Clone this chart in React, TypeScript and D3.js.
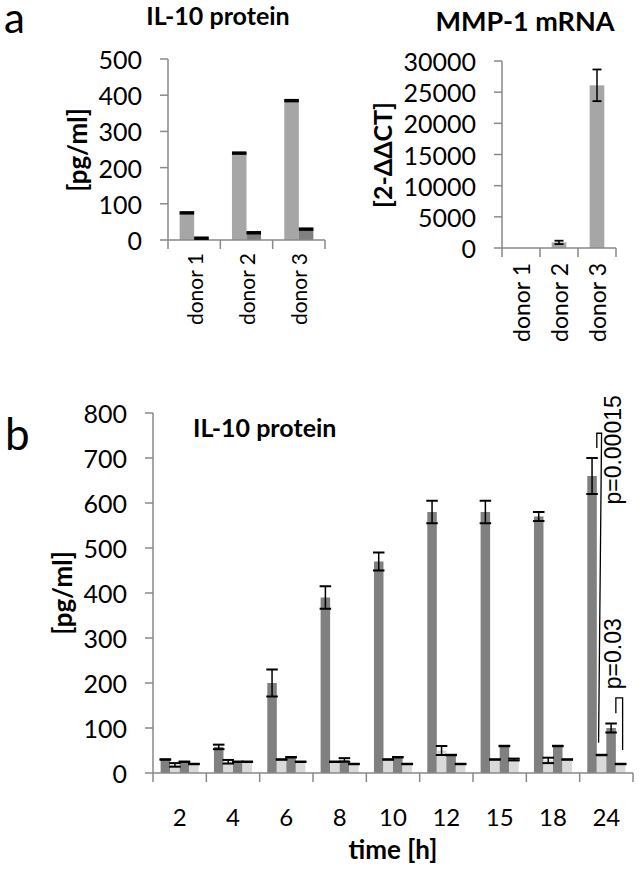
import React from 'react';
import * as d3 from 'd3';

// ---------- Panel a data ----------
const donors = ['donor 1', 'donor 2', 'donor 3'];
const il10Stim = [75, 240, 385];
const il10StimErr = [2, 2, 2];
const il10Ctrl = [5, 20, 30];
const il10CtrlErr = [2, 2, 2];
const il10Ticks = [0, 100, 200, 300, 400, 500];

const mmp1 = [0, 900, 26100];
const mmp1Err = [0, 270, 2540];
const mmp1Ticks = [0, 5000, 10000, 15000, 20000, 25000, 30000];

// ---------- Panel b data ----------
const times = ['2', '4', '6', '8', '10', '12', '15', '18', '24'];
const s1 = [30, 58, 200, 390, 470, 580, 580, 570, 660];
const s1Err = [0.5, 5, 30, 25, 20, 25, 25, 10, 40];
const s2 = [18, 25, 30, 25, 30, 50, 30, 28, 40];
const s2Err = [4, 4, 0.5, 0.5, 0.5, 10, 0.5, 6, 0.5];
const s3 = [25, 25, 35, 29, 35, 40, 60, 60, 100];
const s3Err = [0.5, 0.5, 0.5, 4, 0.5, 0.5, 0.5, 0.5, 10];
const s4 = [20, 25, 25, 20, 20, 20, 30, 30, 20];
const s4Err = [0.5, 0.5, 0.5, 0.5, 0.5, 0.5, 2, 0.5, 0.5];
const bTicks = [0, 100, 200, 300, 400, 500, 600, 700, 800];

// significance annotations at 24 h
const pLabels = ['p=0.00015', 'p=0.03'];
const pTopValues = [755, 167];
const pShortBottom = [722, 133];
const pLongBottom = [67, 51];
const pTextCenter = [718, 265];

const FONT = 'Lato, "Open Sans", sans-serif';
const PFONT = '"Liberation Sans", Arial, sans-serif';
const AXIS = '#898989';
const DARK = '#808080';
const MID = '#a6a6a6';
const LIGHT = '#d9d9d9';

type EBProps = { x: number; yTop: number; yBot: number; cap: number; sw?: number; csw?: number };
function ErrBar({ x, yTop, yBot, cap, sw = 1.5, csw = 2 }: EBProps) {
  return (
    <g stroke="#000">
      <line x1={x} x2={x} y1={yTop} y2={yBot} strokeWidth={sw} />
      <line x1={x - cap / 2} x2={x + cap / 2} y1={yTop} y2={yTop} strokeWidth={csw} />
      <line x1={x - cap / 2} x2={x + cap / 2} y1={yBot} y2={yBot} strokeWidth={csw} />
    </g>
  );
}

function YAxis({ x, y, ticks, fs }: { x: number; y: d3.ScaleLinear<number, number>; ticks: number[]; fs: number }) {
  const [r0, r1] = y.range();
  return (
    <g>
      <line x1={x} x2={x} y1={r0} y2={r1} stroke={AXIS} strokeWidth={1.5} />
      {ticks.map((t) => (
        <g key={t}>
          <line x1={x - 8} x2={x} y1={y(t)} y2={y(t)} stroke={AXIS} strokeWidth={1.5} />
          <text x={x - 26} y={y(t)} textAnchor="end" dominantBaseline="central" fontFamily={FONT} fontSize={fs} fill="#000">
            {String(t)}
          </text>
        </g>
      ))}
    </g>
  );
}

function XAxisBand({ x, y0, domain }: { x: d3.ScaleBand<string>; y0: number; domain: string[] }) {
  const [a, b] = x.range();
  const edges = domain.map((d) => x(d) as number).concat([b]);
  return (
    <g>
      <line x1={a} x2={b} y1={y0} y2={y0} stroke={AXIS} strokeWidth={1.5} />
      {edges.map((e, i) => (
        <line key={i} x1={e} x2={e} y1={y0} y2={y0 + 9} stroke={AXIS} strokeWidth={1.5} />
      ))}
    </g>
  );
}

export default function App() {
  // Panel a, left
  const yA1 = d3.scaleLinear().domain([0, 500]).range([240, 59]);
  const xA1 = d3.scaleBand().domain(donors).range([168, 325]);
  const wA1 = xA1.bandwidth() / 3.6;
  const offA1 = (xA1.bandwidth() - 2 * wA1) / 2;

  // Panel a, right
  const yA2 = d3.scaleLinear().domain([0, 30000]).range([248, 61]);
  const xA2 = d3.scaleBand().domain(donors).range([502, 616]);
  const wA2 = xA2.bandwidth() / 2.6;
  const offA2 = (xA2.bandwidth() - wA2) / 2;

  // Panel b
  const yB = d3.scaleLinear().domain([0, 800]).range([773, 413]);
  const xB = d3.scaleBand().domain(times).range([153, 633]);
  const wB = xB.bandwidth() / 5.6;
  const offB = (xB.bandwidth() - 4 * wB) / 2;
  const series = [
    { vals: s1, errs: s1Err, color: DARK },
    { vals: s2, errs: s2Err, color: LIGHT },
    { vals: s3, errs: s3Err, color: DARK },
    { vals: s4, errs: s4Err, color: LIGHT },
  ];
  const barX = (t: string, si: number) => (xB(t) as number) + offB + si * wB;
  const last = times[times.length - 1];

  return (
    <svg width={639} height={870} style={{ position: 'absolute', left: 0, top: 0, background: '#fff' }}>
      <rect x={0} y={0} width={639} height={870} fill="#fff" />

      {/* panel labels */}
      <text x={4} y={33} fontFamily={FONT} fontSize={42} fill="#000">a</text>
      <text x={5} y={450} fontFamily={FONT} fontSize={44} fill="#000">b</text>

      {/* ---------- Panel a left ---------- */}
      <text x={218} y={25} textAnchor="middle" fontFamily={FONT} fontWeight="bold" fontSize={25}>IL-10 protein</text>
      <text transform={`translate(77,150) rotate(-90)`} textAnchor="middle" dominantBaseline="central" fontFamily={FONT} fontWeight="bold" fontSize={26}>[pg/ml]</text>
      {donors.map((d, i) => (
        <g key={d}>
          <rect x={(xA1(d) as number) + offA1} y={yA1(il10Stim[i])} width={wA1} height={yA1(0) - yA1(il10Stim[i])} fill={MID} />
          <rect x={(xA1(d) as number) + offA1 + wA1} y={yA1(il10Ctrl[i])} width={wA1} height={yA1(0) - yA1(il10Ctrl[i])} fill={DARK} />
        </g>
      ))}
      <YAxis x={168} y={yA1} ticks={il10Ticks} fs={25} />
      <XAxisBand x={xA1} y0={240} domain={donors} />
      {donors.map((d, i) => (
        <g key={'e' + d}>
          <ErrBar x={(xA1(d) as number) + offA1 + wA1 / 2} yTop={yA1(il10Stim[i] + il10StimErr[i])} yBot={yA1(il10Stim[i] - il10StimErr[i])} cap={wA1} csw={2} />
          <ErrBar x={(xA1(d) as number) + offA1 + wA1 * 1.5} yTop={yA1(il10Ctrl[i] + il10CtrlErr[i])} yBot={yA1(il10Ctrl[i] - il10CtrlErr[i])} cap={wA1} csw={2} />
        </g>
      ))}
      {donors.map((d) => (
        <text key={'l' + d} transform={`translate(${(xA1(d) as number) + xA1.bandwidth() / 2},253) rotate(-90)`} textAnchor="end" dominantBaseline="central" fontFamily={FONT} fontSize={21}>{d}</text>
      ))}

      {/* ---------- Panel a right ---------- */}
      <text x={525} y={31} textAnchor="middle" fontFamily={FONT} fontWeight="bold" fontSize={27}>MMP-1 mRNA</text>
      <text transform={`translate(382,155) rotate(-90)`} textAnchor="middle" dominantBaseline="central" fontFamily={FONT} fontWeight="bold" fontSize={25}>[2-ΔΔCT]</text>
      {donors.map((d, i) => (
        <rect key={'m' + d} x={(xA2(d) as number) + offA2} y={yA2(mmp1[i])} width={wA2} height={yA2(0) - yA2(mmp1[i])} fill={MID} />
      ))}
      <YAxis x={502} y={yA2} ticks={mmp1Ticks} fs={25} />
      <XAxisBand x={xA2} y0={248} domain={donors} />
      {donors.map((d, i) =>
        mmp1[i] > 0 ? (
          <ErrBar key={'me' + d} x={(xA2(d) as number) + xA2.bandwidth() / 2} yTop={yA2(mmp1[i] + mmp1Err[i])} yBot={yA2(mmp1[i] - mmp1Err[i])} cap={9} csw={1.8} />
        ) : null
      )}
      {donors.map((d) => (
        <text key={'ml' + d} transform={`translate(${(xA2(d) as number) + xA2.bandwidth() / 2},263) rotate(-90)`} textAnchor="end" dominantBaseline="central" fontFamily={FONT} fontSize={23}>{d}</text>
      ))}

      {/* ---------- Panel b ---------- */}
      <text x={193} y={437} fontFamily={FONT} fontWeight="bold" fontSize={25}>IL-10 protein</text>
      <text transform={`translate(62,593) rotate(-90)`} textAnchor="middle" dominantBaseline="central" fontFamily={FONT} fontWeight="bold" fontSize={26}>[pg/ml]</text>
      {times.map((t) =>
        series.map((s, si) => {
          const i = times.indexOf(t);
          return <rect key={t + si} x={barX(t, si)} y={yB(s.vals[i])} width={wB} height={yB(0) - yB(s.vals[i])} fill={s.color} />;
        })
      )}
      <YAxis x={153} y={yB} ticks={bTicks} fs={25} />
      <XAxisBand x={xB} y0={773} domain={times} />
      {times.map((t) =>
        series.map((s, si) => {
          const i = times.indexOf(t);
          return (
            <ErrBar key={'eb' + t + si} x={barX(t, si) + wB / 2} yTop={yB(s.vals[i] + s.errs[i])} yBot={yB(s.vals[i] - s.errs[i])} cap={wB + 2} csw={2} />
          );
        })
      )}
      {times.map((t) => (
        <text key={'tl' + t} x={(xB(t) as number) + xB.bandwidth() / 2} y={826} textAnchor="middle" fontFamily={FONT} fontSize={24}>{t}</text>
      ))}
      <text x={393} y={859} textAnchor="middle" fontFamily={FONT} fontWeight="bold" fontSize={26}>time [h]</text>

      {/* significance brackets at 24 h */}
      <g stroke="#000" strokeWidth={1.3} fill="none">
        <polyline points={`${barX(last, 1)},${yB(pShortBottom[0])} ${barX(last, 1)},${yB(pTopValues[0])} ${barX(last, 1) + wB / 2},${yB(pTopValues[0])} ${barX(last, 1) + wB / 2 - 3},${yB(pLongBottom[0])}`} />
        <polyline points={`${barX(last, 3)},${yB(pShortBottom[1])} ${barX(last, 3)},${yB(pTopValues[1])} ${barX(last, 3) + wB / 2 + 2},${yB(pTopValues[1])} ${barX(last, 3) + wB / 2 + 2},${yB(pLongBottom[1])}`} />
      </g>
      {pLabels.map((p, i) => (
        <text key={p} transform={`translate(621,${yB(pTextCenter[i])}) rotate(-90)`} textAnchor="middle" fontFamily={PFONT} fontSize={23}>{p}</text>
      ))}
    </svg>
  );
}
